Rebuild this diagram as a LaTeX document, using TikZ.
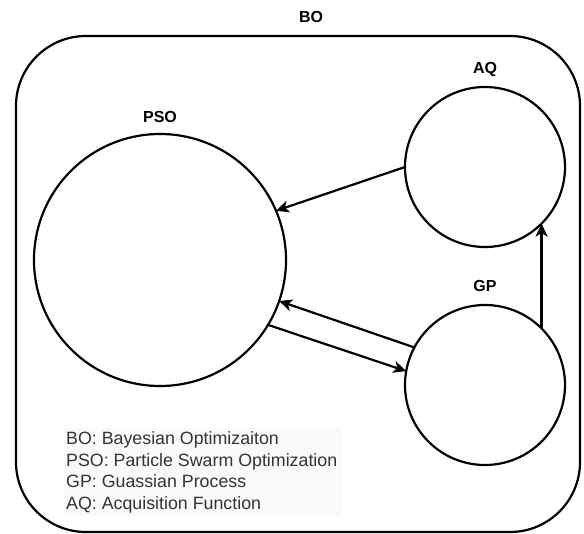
\documentclass[tikz,border=0pt]{standalone}
\usepackage{fontspec}
\setmainfont{Liberation Sans}
\usetikzlibrary{arrows.meta}
\begin{document}
\begin{tikzpicture}[x=1pt,y=-1pt,
  circ/.style={draw, circle, line width=2.2pt, inner sep=0pt, outer sep=0pt},
  lbl/.style={font=\fontsize{16}{19}\selectfont\bfseries, inner sep=0pt},
  legline/.style={anchor=base west, inner sep=0pt, text=black!80, font=\fontsize{17.8}{21}\selectfont},
  conn/.style={line width=2.2pt, -{Stealth[length=13pt,width=12pt,inset=3.5pt]}},
]
\useasboundingbox (0,0) rectangle (584,534);
\draw[line width=2.2pt, rounded corners=70pt] (16,36) rectangle (580,532);
\fill[black!2] (64,428) rectangle (341,516);
\node[circ, minimum size=252pt] (pso) at (160,260) {};
\node[circ, minimum size=160pt] (aq) at (485,167) {};
\node[circ, minimum size=160pt] (gp) at (485,385) {};
\node[lbl] (bolbl) at (311,17) {BO};
\node[lbl] (psolbl) at (160,117) {PSO};
\node[lbl] (aqlbl) at (485,69) {AQ};
\node[lbl] (gplbl) at (485,286) {GP};
\draw[conn] (aq.180) -- (pso.23);
\draw[conn] (gp.45) -- (aq.-45);
\draw[conn] (gp.152.5) -- (pso.-19.3);
\draw[conn] (pso.-31) -- (gp.170.5);
\node[legline] (l1) at (66,445) {BO: Bayesian Optimizaiton};
\node[legline] (l2) at (66,466.5) {PSO: Particle Swarm Optimization};
\node[legline] (l3) at (66,488) {GP: Guassian Process};
\node[legline] (l4) at (66,509.5) {AQ: Acquisition Function};
\end{tikzpicture}
\end{document}
